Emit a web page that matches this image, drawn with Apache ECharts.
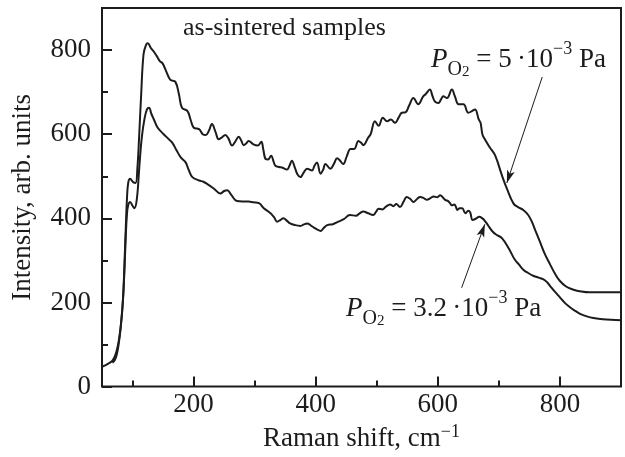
<!DOCTYPE html>
<html>
<head>
<meta charset="utf-8">
<title>Raman spectra</title>
<script src="https://cdn.jsdelivr.net/npm/echarts@6/dist/echarts.min.js"></script>
<style>
  html, body { margin: 0; padding: 0; background: #fff; }
  #chart { width: 625px; height: 457px; }
</style>
</head>
<body>
<div id="chart"></div>
<script>
// upper curve, P(O2) = 5e-3 Pa
var shiftHigh = [50, 56, 62, 67, 71, 74, 77, 80, 83, 85, 87, 89, 91, 93, 96, 101, 105, 108, 111, 114, 118, 122, 125,
  130, 135, 140, 145, 149, 155, 162, 170, 176, 181, 190, 195, 200, 209, 215, 220, 225, 230, 236, 241, 246, 252,
  257, 263, 268, 274, 278, 282, 286, 290, 298, 305, 311, 314, 318, 322, 327, 331, 334, 340, 345, 353, 357, 361,
  366, 370, 375, 380, 386, 394, 398, 402, 408, 412, 416, 424, 430, 435, 440, 445, 451, 457, 463, 470, 474, 478,
  486, 490, 497, 503, 510, 517, 523, 530, 536, 541, 547, 553, 560, 568, 576, 580, 587, 591, 595, 601, 605, 609,
  615, 623, 628, 634, 642, 650, 656, 661, 667, 670, 673, 677, 685, 694, 705, 713, 724, 732, 740, 748, 754, 760,
  767, 775, 784, 792, 800, 810, 821, 835, 849, 870, 900];
var intensityHigh = [47, 51, 56, 62, 72, 85, 105, 135, 180, 225, 300, 380, 450, 485, 494, 486, 484, 520, 600, 690, 790, 812, 816,
  805, 796, 785, 773, 769, 750, 729, 725, 695, 663, 655, 635, 616, 612, 600, 598, 608, 624, 605, 588, 592, 598,
  590, 573, 582, 594, 585, 574, 578, 584, 576, 573, 582, 565, 541, 540, 549, 535, 525, 522, 521, 516, 525, 537,
  520, 505, 498, 508, 518, 514, 525, 533, 506, 515, 529, 518, 530, 543, 537, 529, 548, 565, 565, 584, 580, 574,
  592, 600, 631, 620, 639, 631, 635, 627, 640, 651, 652, 668, 686, 671, 690, 695, 706, 692, 678, 674, 682, 690,
  686, 706, 690, 671, 671, 651, 655, 659, 635, 627, 600, 588, 569, 549, 502, 471, 435, 426, 420, 408, 392, 370,
  345, 316, 290, 268, 251, 238, 231, 226, 224, 224, 224];

// lower curve, P(O2) = 3.2e-3 Pa
var shiftLow = [67, 71, 74, 77, 80, 83, 85, 87, 89, 91, 93, 96, 100, 103, 107, 111, 115, 120, 124, 127, 131, 135, 141,
  151, 158, 165, 172, 179, 187, 192, 198, 209, 216, 222, 233, 244, 250, 255, 262, 271, 280, 290, 298, 307, 315,
  326, 332, 337, 342, 347, 353, 358, 366, 375, 380, 386, 392, 397, 402, 408, 413, 419, 428, 437, 446, 456, 466,
  472, 478, 486, 494, 499, 503, 509, 515, 522, 527, 532, 538, 544, 549, 555, 560, 566, 571, 577, 582, 588, 593,
  599, 604, 608, 612, 617, 620, 623, 627, 630, 632, 636, 640, 645, 650, 653, 657, 662, 668, 673, 676, 682, 690,
  697, 705, 716, 726, 733, 740, 748, 757, 765, 773, 779, 784, 792, 800, 808, 817, 825, 833, 844, 855, 870, 900];
var intensityLow = [57, 63, 75, 98, 132, 178, 222, 285, 360, 412, 432, 439, 430, 424, 445, 520, 590, 640, 660, 663, 648, 635, 616,
  600, 590, 580, 562, 545, 533, 515, 498, 490, 487, 482, 471, 459, 465, 467, 455, 441, 440, 440, 438, 436, 424,
  412, 402, 392, 396, 400, 394, 388, 384, 382, 385, 388, 383, 378, 374, 370, 377, 384, 386, 392, 398, 408, 406,
  412, 416, 412, 408, 416, 423, 421, 428, 433, 429, 434, 427, 440, 451, 446, 439, 446, 451, 448, 444, 448, 452,
  450, 455, 450, 444, 441, 436, 431, 433, 426, 420, 424, 424, 412, 418, 414, 396, 399, 404, 400, 396, 384, 368,
  360, 353, 329, 302, 290, 278, 270, 263, 259, 255, 248, 239, 225, 212, 199, 188, 180, 173, 167, 163, 160, 158];

var xMajor = [200, 400, 600, 800];
var xMinor = [100, 300, 500, 700];
var yMajor = [0, 200, 400, 600, 800];
var yMinor = [100, 300, 500, 700];

// arrows from the labels to the curves (data units)
var arrowHigh = [[771, 736], [713, 484]];
var arrowLow = [[639, 235], [677, 386]];

function pairs(xs, ys) {
  return xs.map(function (x, i) { return [x, ys[i]]; });
}

var serif = '"Liberation Serif", "DejaVu Serif", serif';
var ink = '#1c1c1c';

var chart = echarts.init(document.getElementById('chart'));

function arrowLine(pts) {
  return {
    silent: true,
    symbol: ['none', 'arrow'],
    symbolSize: [6, 13],
    label: { show: false },
    lineStyle: { color: ink, width: 1, type: 'solid' },
    data: [[{ coord: pts[0] }, { coord: pts[1] }]]
  };
}

function pLabel(rest) {
  return '{p|P}{o|O}{t|2}{m| = ' + rest + '}{s|\u22123}{m| Pa}';
}
var pRich = {
  p: { fontFamily: serif, fontSize: 27, fontStyle: 'italic', lineHeight: 40, fill: ink },
  o: { fontFamily: serif, fontSize: 20, verticalAlign: 'bottom', lineHeight: 21, fill: ink },
  t: { fontFamily: serif, fontSize: 15, verticalAlign: 'bottom', lineHeight: 4, fill: ink },
  m: { fontFamily: serif, fontSize: 27, lineHeight: 40, fill: ink },
  s: { fontFamily: serif, fontSize: 18, verticalAlign: 'top', lineHeight: 25, fill: ink }
};

chart.setOption({
  animation: false,
  backgroundColor: '#fff',
  grid: { left: 102, right: 4, top: 8, bottom: 67, show: true, borderColor: ink, borderWidth: 2 },
  xAxis: [{
    type: 'value', min: 50, max: 900,
    name: '{a|Raman shift, cm}{b|\u22121}',
    nameLocation: 'middle', nameGap: 34,
    nameTextStyle: {
      rich: {
        a: { fontFamily: serif, fontSize: 27, color: ink, lineHeight: 30 },
        b: { fontFamily: serif, fontSize: 18, color: ink, verticalAlign: 'top', lineHeight: 18 }
      }
    },
    axisLine: { show: false },
    axisTick: { inside: true, length: 10, customValues: xMajor, lineStyle: { color: ink, width: 2 } },
    axisLabel: { customValues: xMajor, margin: 5, fontFamily: serif, fontSize: 27, color: ink },
    splitLine: { show: false }
  }, {
    type: 'value', min: 50, max: 900, position: 'bottom',
    axisLine: { show: false },
    axisTick: { inside: true, length: 6, customValues: xMinor, lineStyle: { color: ink, width: 2 } },
    axisLabel: { show: false },
    splitLine: { show: false }
  }],
  yAxis: [{
    type: 'value', min: 0, max: 900,
    name: 'Intensity, arb. units',
    nameLocation: 'middle', nameGap: 66,
    nameTextStyle: { fontFamily: serif, fontSize: 27, color: ink },
    axisLine: { show: false },
    axisTick: { inside: true, length: 10, customValues: yMajor, lineStyle: { color: ink, width: 2 } },
    axisLabel: { customValues: yMajor, margin: 11, fontFamily: serif, fontSize: 27, color: ink },
    splitLine: { show: false }
  }, {
    type: 'value', min: 0, max: 900, position: 'left',
    axisLine: { show: false },
    axisTick: { inside: true, length: 6, customValues: yMinor, lineStyle: { color: ink, width: 2 } },
    axisLabel: { show: false },
    splitLine: { show: false }
  }],
  graphic: [{
    type: 'text', left: 183, top: 15,
    style: { text: 'as-sintered samples', font: '26px ' + serif, fill: ink }
  }, {
    type: 'text', left: 431, top: 40,
    style: { text: pLabel('5\u2009·10'), rich: pRich, fill: ink }
  }, {
    type: 'text', left: 346, top: 289,
    style: { text: pLabel('3.2\u2009·10'), rich: pRich, fill: ink }
  }],
  series: [{
    name: '5e-3 Pa', type: 'line', xAxisIndex: 0, yAxisIndex: 0,
    data: pairs(shiftHigh, intensityHigh),
    smooth: 0.4, showSymbol: false,
    lineStyle: { color: ink, width: 2 },
    markLine: arrowLine(arrowHigh)
  }, {
    name: '3.2e-3 Pa', type: 'line', xAxisIndex: 0, yAxisIndex: 0,
    data: pairs(shiftLow, intensityLow),
    smooth: 0.4, showSymbol: false,
    lineStyle: { color: ink, width: 2 },
    markLine: arrowLine(arrowLow)
  }]
});
</script>
</body>
</html>
